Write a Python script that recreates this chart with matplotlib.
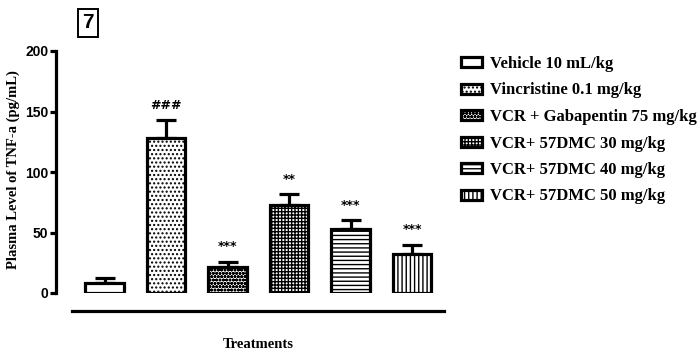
import matplotlib.pyplot as plt
import numpy as np

# data
groups = ["Vehicle 10 mL/kg", "Vincristine 0.1 mg/kg", "VCR + Gabapentin 75 mg/kg",
          "VCR+ 57DMC 30 mg/kg", "VCR+ 57DMC 40 mg/kg", "VCR+ 57DMC 50 mg/kg"]
means = [8, 128, 21.5, 73, 53, 32]
errors = [4, 15, 4.5, 8.5, 7, 8]
stars = ["", "###", "***", "**", "***", "***"]
hatches = ["", "....", "ooooo", "+++++", "----", "||||"]

plt.rcParams["hatch.linewidth"] = 1.0

fig = plt.figure(figsize=(6.99, 3.52), dpi=100)
ax = fig.add_axes([56/699, 59/352, 388/699, 242/352])

x = np.arange(len(means))
bars = ax.bar(x, means, width=0.63, color="white", edgecolor="black",
              linewidth=2.3, hatch=hatches, zorder=3, label=groups)
ax.errorbar(x, means, yerr=[np.zeros(len(errors)), errors], fmt="none",
            ecolor="black", elinewidth=2.3, capsize=7, capthick=2.3, zorder=2)

for xi, m, e, s in zip(x, means, errors, stars):
    if s:
        ax.annotate(s, (xi, m + e), xytext=(0, 6), textcoords="offset points",
                    ha="center", va="bottom", fontsize=9, fontweight="bold")

ax.set_xlim(-0.789, 5.52)
ax.set_ylim(0, 200)
ax.set_yticks([0, 50, 100, 150, 200])
ax.set_xticks([])

for side in ["top", "right"]:
    ax.spines[side].set_visible(False)
ax.spines["left"].set_linewidth(2.3)
ax.spines["bottom"].set_linewidth(2.3)
ax.spines["bottom"].set_position(("outward", 13))
ax.spines["bottom"].set_bounds(-0.528, 5.52)
ax.tick_params(axis="y", width=2.3, length=4.5, pad=1, labelsize=10)
for lbl in ax.get_yticklabels():
    lbl.set_fontweight("bold")
    lbl.set_family("Liberation Sans")

ax.set_ylabel("Plasma Level of TNF-a (pg/mL)", family="Liberation Serif",
              fontweight="bold", fontsize=10.5)
ax.yaxis.set_label_coords(-0.093, 0.51)
fig.text(258/699, 1 - 345/352, "Treatments", family="Liberation Serif",
         fontweight="bold", fontsize=10.5, ha="center", va="center")

# panel number in a box
fig.text(88/699, 1 - 23/352, "7", family="Liberation Sans", fontweight="bold",
         fontsize=15, ha="center", va="center",
         bbox=dict(boxstyle="square,pad=0.2", facecolor="white", edgecolor="black", linewidth=1.4))

fig.legend(handles=list(bars), labels=groups, loc="upper left",
           bbox_to_anchor=(446/699, 1 - 41/352), frameon=False,
           prop={"family": "Liberation Serif", "weight": "bold", "size": 12},
           handlelength=1.26, handleheight=0.55, labelspacing=0.63, handletextpad=0.5)

plt.savefig("out.png", dpi=100)
